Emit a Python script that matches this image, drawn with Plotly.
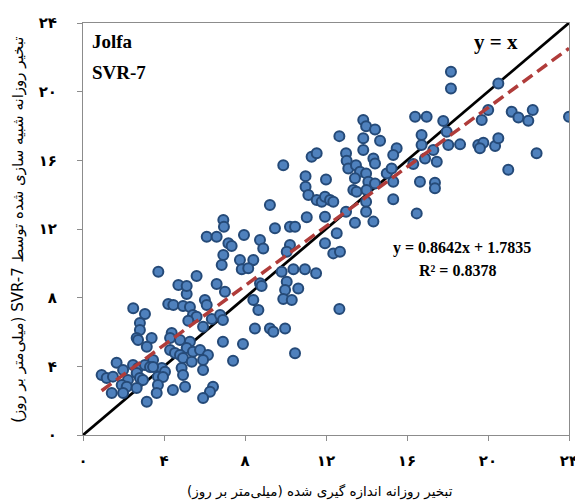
import plotly.graph_objects as go

# Observed (measured) daily evaporation, mm/day
observed = [
    5.12, 6.02, 6.11, 4.21, 4.46, 4.94, 5.28, 2.48, 3.06, 5.43, 5.61, 5.20, 6.36, 6.77, 6.91,
    2.81, 2.81, 5.93, 4.38, 4.30, 2.65, 2.72, 3.39, 3.15, 4.79, 5.28, 6.91, 7.90, 4.30, 4.54,
    5.12, 5.43, 5.78, 6.17, 4.79, 4.94, 3.46, 1.66, 5.37, 5.93, 7.41, 2.47, 2.72, 3.06, 3.31,
    3.89, 4.05, 3.46, 1.98, 4.87, 4.94, 5.93, 0.92, 1.17, 1.48, 2.65, 2.81, 2.22, 2.96, 3.70,
    3.95, 1.91, 2.16, 2.65, 3.70, 5.04, 4.44, 1.42, 1.98, 3.64, 6.42, 6.27, 5.93, 3.15,
    6.93, 6.96, 6.11, 6.60, 7.95, 7.18, 7.34, 6.93, 6.85, 7.75, 7.84, 3.72, 5.61, 4.71, 5.12,
    6.60, 7.01,
    8.74, 8.90, 10.22, 10.06, 12.53, 11.95, 12.36, 12.69, 8.41, 8.16, 9.81, 10.39, 10.96, 11.51,
    8.74, 8.82, 10.06, 9.98, 10.63, 9.89, 10.31, 8.41, 8.66, 12.66, 8.49, 9.23, 9.40, 9.98, 10.47,
    13.84, 13.98, 14.42, 14.67, 12.66, 13.84, 13.84, 15.49, 15.32, 9.89, 11.29, 11.54, 12.99,
    13.02, 13.10, 13.48, 14.34, 14.42, 15.00, 15.24, 15.32, 13.68, 13.98, 13.43, 14.09, 14.42,
    10.99, 10.99, 11.13, 11.54, 11.79, 12.00, 11.95, 12.20, 12.36, 13.35, 13.51, 14.00, 13.98,
    13.98, 15.32, 9.23, 11.05, 11.95, 12.99, 13.43, 14.34, 9.48, 10.22, 10.47,
    18.17, 18.17, 20.51, 16.40, 16.97, 17.79, 20.01, 19.69, 21.17, 21.50, 21.99, 22.21, 24.00,
    17.96, 18.04, 16.72, 16.72, 18.62, 17.30, 16.89, 17.47, 16.31, 19.52, 19.77, 19.60, 20.35,
    20.51, 22.40, 21.00,
    16.64, 17.38, 17.38, 16.48,
]

# Simulated daily evaporation by SVR-7, mm/day
simulated = [
    8.21, 7.86, 7.57, 7.63, 7.57, 7.51, 7.45, 7.38, 7.05, 6.99, 6.89, 6.66, 6.76, 6.99, 6.70,
    6.52, 6.12, 6.31, 5.94, 5.65, 5.65, 5.53, 5.65, 5.14, 5.53, 5.43, 5.43, 5.30, 4.95, 4.78,
    5.07, 4.85, 4.95, 4.66, 4.66, 4.48, 4.37, 4.21, 4.27, 4.37, 4.33, 4.08, 3.90, 4.08, 3.96,
    3.90, 3.69, 3.96, 3.79, 3.90, 3.49, 3.79, 3.49, 3.32, 3.40, 3.61, 3.32, 3.20, 3.20, 3.40,
    3.38, 2.91, 2.81, 2.74, 2.91, 2.81, 2.62, 2.45, 2.45, 2.45, 2.81, 2.52, 2.15, 1.94,
    12.52, 12.13, 11.55, 11.55, 11.65, 11.17, 11.01, 10.48, 9.90, 10.19, 9.65, 9.51, 9.26, 8.74, 8.68,
    8.79, 8.35,
    11.36, 10.87, 11.07, 10.68, 11.75, 11.17, 10.58, 10.68, 10.19, 9.71, 9.51, 9.65, 9.65, 9.42,
    8.84, 8.68, 8.93, 8.45, 8.54, 7.92, 7.86, 7.86, 7.28, 7.34, 6.21, 6.21, 6.02, 6.21, 4.76,
    18.35, 17.99, 17.80, 17.14, 17.41, 17.28, 16.60, 16.70, 16.31, 15.72, 16.21, 16.41, 16.41,
    15.98, 15.53, 15.72, 16.11, 15.82, 15.24, 15.53, 14.75, 15.34, 15.24, 14.95, 14.75, 14.65,
    15.08, 14.46, 13.98, 13.69, 13.59, 14.89, 13.88, 13.69, 13.59, 14.27, 14.17, 14.27, 13.59,
    13.01, 13.73, 13.40, 12.68, 12.71, 13.01, 12.37, 12.43, 12.04, 12.13, 12.13,
    21.16, 20.19, 20.48, 18.54, 18.54, 18.29, 18.93, 18.35, 18.83, 18.50, 18.31, 18.93, 18.54,
    17.66, 16.89, 17.47, 16.89, 16.93, 16.60, 16.11, 15.92, 15.78, 16.89, 17.02, 16.70, 16.83,
    17.28, 16.41, 15.45,
    14.75, 14.69, 14.37, 12.91,
]

slope = 0.8642
intercept = 1.7835
r2 = 0.8378

tick_values = [0, 4, 8, 12, 16, 20, 24]
tick_labels = ["۰", "۴", "۸", "۱۲", "۱۶", "۲۰", "۲۴"]

x_title = "تبخیر روزانه اندازه گیری شده (میلی\u200cمتر بر روز)"
y_title = "تبخیر روزانه شبیه سازی شده توسط SVR-7 (میلی\u200cمتر بر روز)"

RLE, PDF = "\u202b", "\u202c"

fig = go.Figure()

# y = x line
fig.add_trace(go.Scatter(
    x=[0, 24], y=[0, 24], mode="lines",
    line=dict(color="black", width=2.8), showlegend=False, hoverinfo="skip",
))

fig.add_trace(go.Scatter(
    x=observed, y=simulated, mode="markers",
    marker=dict(size=10, color="#4F81BD", line=dict(color="#254A78", width=2)),
    showlegend=False,
))

# trend line
tx = [min(observed), max(observed)]
ty = [slope * v + intercept for v in tx]
fig.add_trace(go.Scatter(
    x=tx, y=ty, mode="lines",
    line=dict(color="#B03C3A", width=3.5, dash="12px,6px"),
    showlegend=False, hoverinfo="skip",
))

serif = "Liberation Serif"
fa = "DejaVu Sans"

axis_common = dict(
    range=[0, 24], tickmode="array", tickvals=tick_values, ticktext=tick_labels,
    showgrid=False, zeroline=False, showline=True, linecolor="#8c8c8c", linewidth=1,
    mirror=True, ticks="outside", ticklen=5, tickcolor="#8c8c8c",
    tickfont=dict(family=fa, size=15, color="black", weight="bold"),
    ticklabeloverflow="allow", automargin=False,
)

fig.update_xaxes(**axis_common, ticklabelstandoff=7)
fig.update_yaxes(**axis_common, ticklabelstandoff=17)

anns = [
    dict(x=0.35, y=22.9, text="<b>Jolfa</b>", xanchor="left", font=dict(size=19)),
    dict(x=0.35, y=21.1, text="<b>SVR-7</b>", xanchor="left", font=dict(size=19)),
    dict(x=20.4, y=22.9, text="<b>y = x</b>", xanchor="center", font=dict(size=21)),
    dict(x=18.7, y=10.9, text=f"<b>y = {slope:.4f}x + {intercept:.4f}</b>", xanchor="center", font=dict(size=16)),
    dict(x=18.5, y=9.6, text=f"<b>R² = {r2:.4f}</b>", xanchor="center", font=dict(size=16)),
]
for a in anns:
    a.update(xref="x", yref="y", showarrow=False, yanchor="middle")
    a["font"].update(family=serif, color="black")
    fig.add_annotation(**a)

fig.add_annotation(
    xref="paper", yref="paper", x=0.488, y=-0.138, text=RLE + x_title + PDF,
    showarrow=False, font=dict(family=fa, size=13.5, color="black"),
    xanchor="center", yanchor="middle",
)
fig.add_annotation(
    xref="paper", yref="paper", x=-0.134, y=0.4976, text=RLE + y_title + PDF,
    showarrow=False, textangle=-90, font=dict(family=fa, size=15, color="black"),
    xanchor="center", yanchor="middle",
)

fig.update_layout(
    width=575, height=504,
    margin=dict(l=83, r=6, t=23, b=69, autoexpand=False),
    paper_bgcolor="white", plot_bgcolor="white",
)

fig.write_html("out.html", config={"displayModeBar": False},
               post_script="document.body.style.margin='0';")
